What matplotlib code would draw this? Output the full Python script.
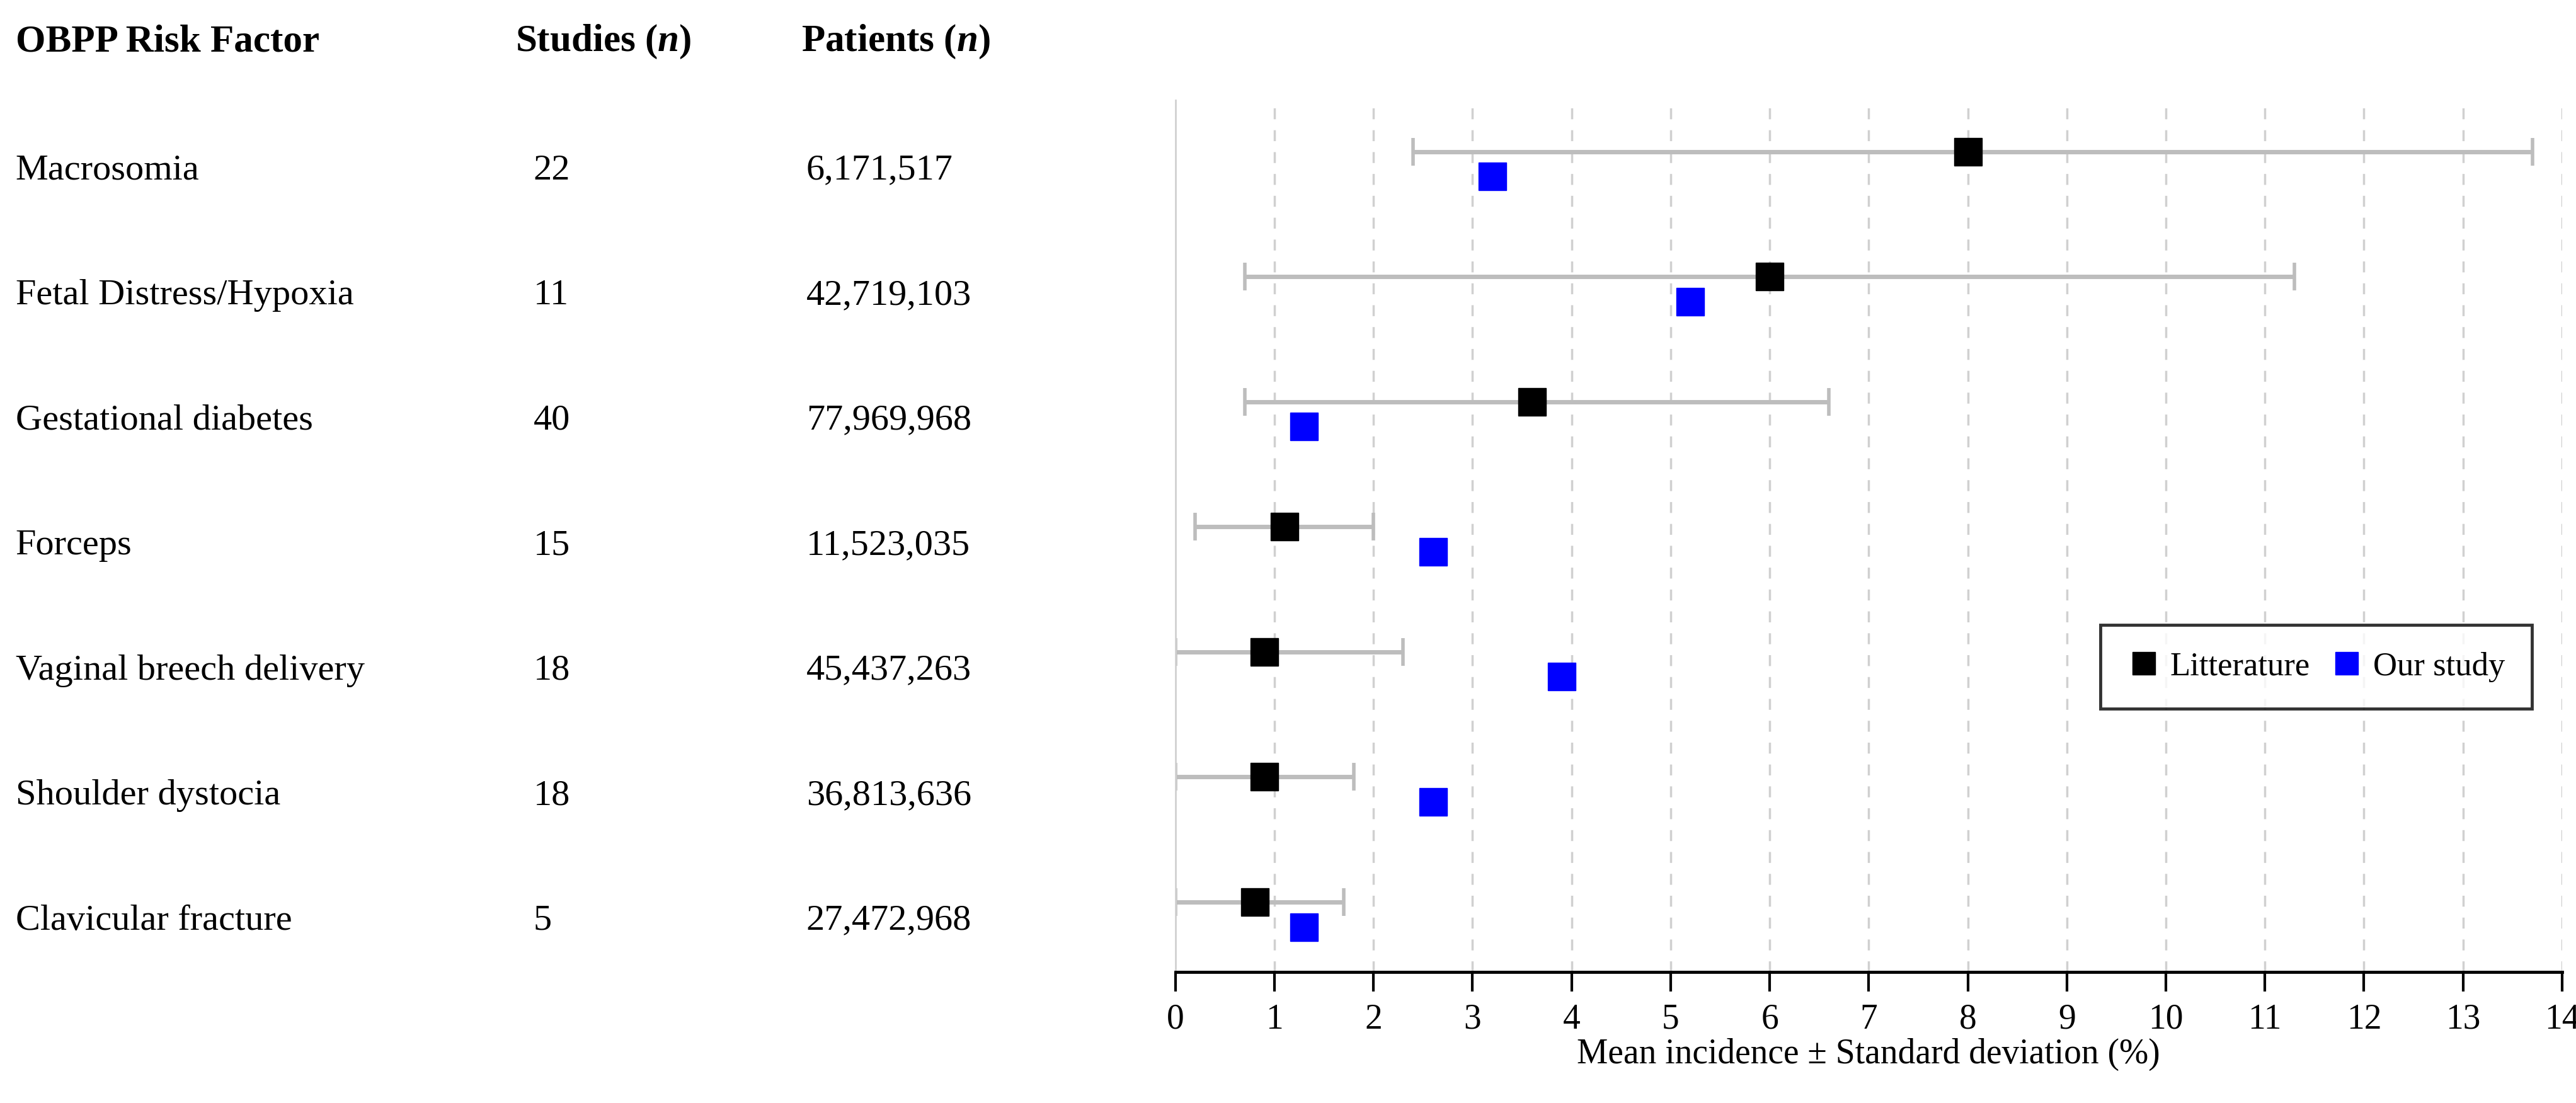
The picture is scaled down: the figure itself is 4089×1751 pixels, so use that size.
import matplotlib.pyplot as plt
import matplotlib.transforms as mtransforms
import numpy as np

plt.rcParams['font.family'] = ['Liberation Serif', 'DejaVu Serif']
plt.rcParams['mathtext.fontset'] = 'custom'
plt.rcParams['mathtext.rm'] = 'Liberation Serif'
plt.rcParams['mathtext.it'] = 'Liberation Serif:italic'
plt.rcParams['mathtext.bf'] = 'Liberation Serif:bold'
plt.rcParams['mathtext.bfit'] = 'Liberation Serif:italic:bold'

factors = ['Macrosomia', 'Fetal Distress/Hypoxia', 'Gestational diabetes', 'Forceps',
           'Vaginal breech delivery', 'Shoulder dystocia', 'Clavicular fracture']
studies = ['22', '11', '40', '15', '18', '18', '5']
patients = ['6,171,517', '42,719,103', '77,969,968', '11,523,035',
            '45,437,263', '36,813,636', '27,472,968']
lit_mean = [8.0, 6.0, 3.6, 1.1, 0.9, 0.9, 0.8]
lit_low = [2.4, 0.7, 0.7, 0.2, 0.0, 0.0, 0.0]
lit_high = [13.7, 11.3, 6.6, 2.0, 2.3, 1.8, 1.7]
our_study = [3.2, 5.2, 1.3, 2.6, 3.9, 2.6, 1.3]

fig = plt.figure(figsize=(40.89, 17.51), dpi=100)
ax = fig.add_axes([0.4563, 0.1188, 0.5383, 0.7902])

y = np.arange(len(factors))
lit_mean_a = np.array(lit_mean)
err = [lit_mean_a - np.array(lit_low), np.array(lit_high) - lit_mean_a]
ax.errorbar(lit_mean, y, xerr=err, fmt='none', ecolor='#bdbdbd', elinewidth=5,
            capsize=16, capthick=4, zorder=2)
ax.plot(lit_mean, y, 's', color='black', markersize=31, label='Litterature', zorder=3)
ax.plot(our_study, y + 0.2, 's', color='#0000ff', markersize=31, label='Our study', zorder=3)

ax.set_xlim(0, 14)
ax.set_ylim(6.56, -0.41)
ax.set_xticks(range(15))
ax.tick_params(axis='x', labelsize=40, length=22, width=3, direction='out', pad=14)
ax.set_yticks([])
for s in ['top', 'right']:
    ax.spines[s].set_visible(False)
ax.spines['left'].set_color('#d0d0d0')
ax.spines['left'].set_linewidth(2)
ax.spines['bottom'].set_linewidth(3.5)
for xv in range(1, 15):
    ax.axvline(xv, color='#d0d0d0', linestyle=(0, (5, 5)), linewidth=2.5, zorder=1)
ax.set_xlabel('Mean incidence ± Standard deviation (%)', fontsize=40, labelpad=2)

leg = ax.legend(loc='center left', bbox_to_anchor=(0.655, 0.35), ncol=2, fontsize=38,
                frameon=True, fancybox=False, edgecolor='black', handletextpad=0.3,
                columnspacing=0.6, borderpad=0.8, handlelength=1.0, markerscale=0.85)
leg.get_frame().set_linewidth(3.5)

# table on the left
trans = mtransforms.blended_transform_factory(fig.transFigure, ax.transData)
hy = 1 - 66 / 1751
fig.text(0.006, hy, 'OBPP Risk Factor', fontsize=44, fontweight='bold', va='center')
fig.text(0.2, hy, r'Studies ($\mathbfit{n}$)', fontsize=44, fontweight='bold', va='center')
fig.text(0.311, hy, r'Patients ($\mathbfit{n}$)', fontsize=44, fontweight='bold', va='center')
for i in range(len(factors)):
    fig.text(0.006, y[i] + 0.15, factors[i], fontsize=42, va='center', transform=trans)
    fig.text(0.207, y[i] + 0.15, studies[i], fontsize=42, va='center', transform=trans)
    fig.text(0.313, y[i] + 0.15, patients[i], fontsize=42, va='center', transform=trans)

fig.savefig('out.png', dpi=100)
